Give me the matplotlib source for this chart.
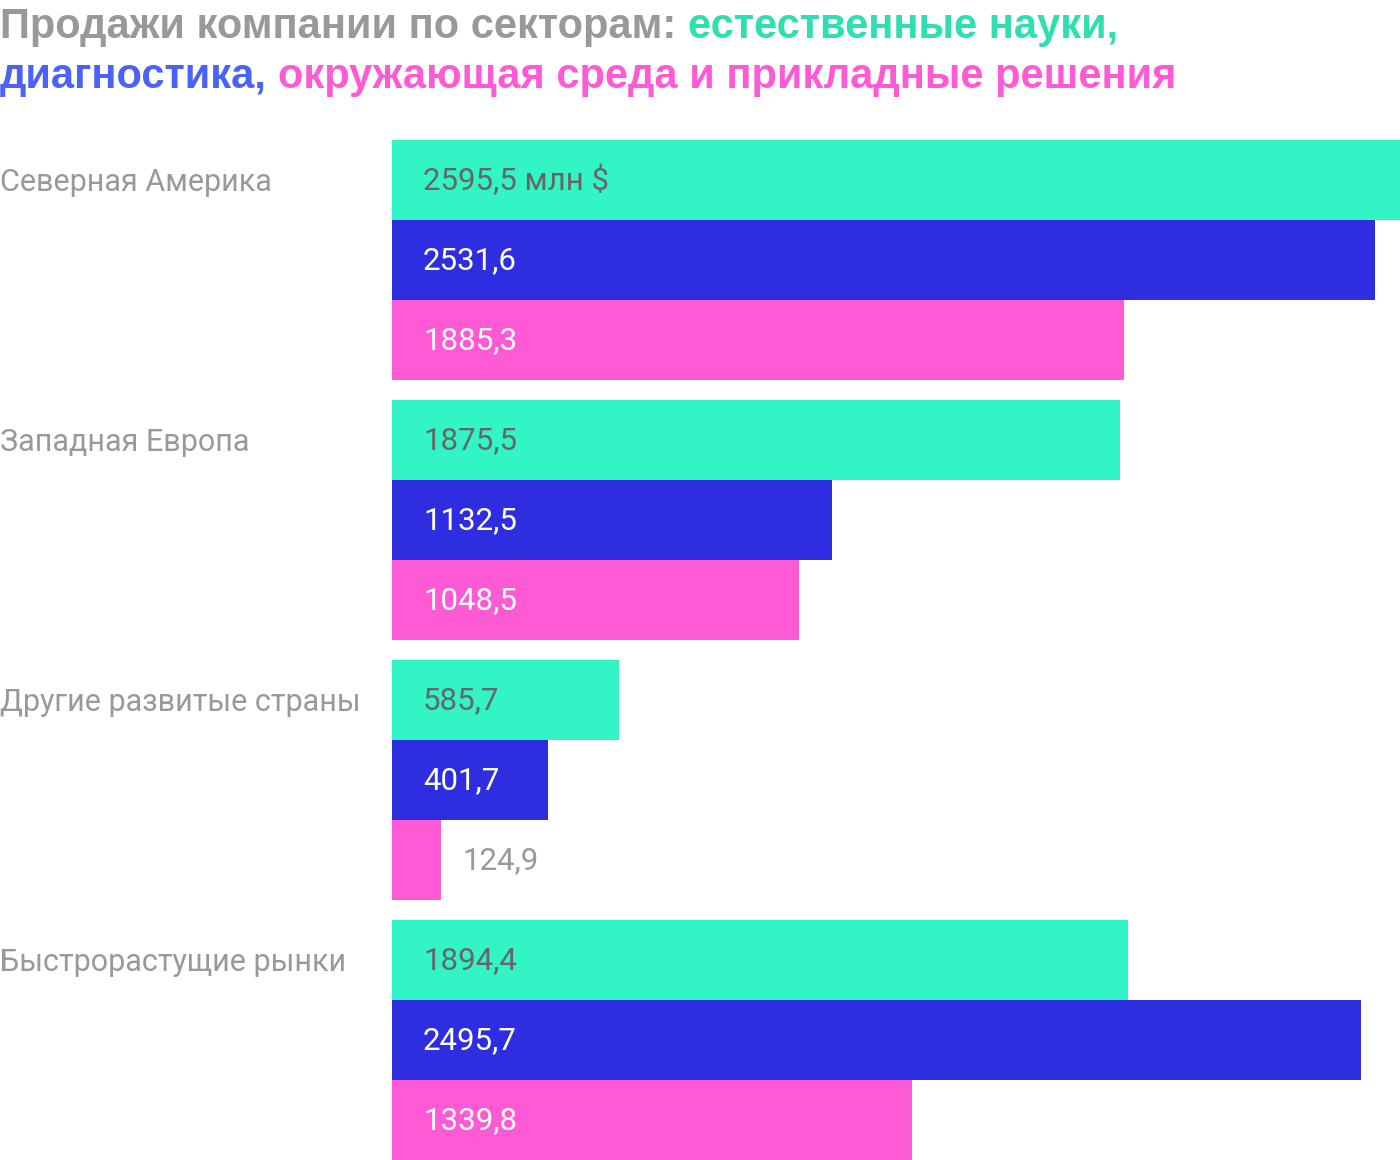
import matplotlib
matplotlib.use("Agg")
import matplotlib.pyplot as plt

categories = ["Северная Америка", "Западная Европа", "Другие развитые страны", "Быстрорастущие рынки"]
series_names = ["естественные науки", "диагностика", "окружающая среда и прикладные решения"]
life_sciences = [2595.5, 1875.5, 585.7, 1894.4]
diagnostics = [2531.6, 1132.5, 401.7, 2495.7]
environment = [1885.3, 1048.5, 124.9, 1339.8]
value_labels = [
    ["2595,5 млн $", "1875,5", "585,7", "1894,4"],
    ["2531,6", "1132,5", "401,7", "2495,7"],
    ["1885,3", "1048,5", "124,9", "1339,8"],
]

bar_colors = ["#33F4C5", "#2E2EE0", "#FF5AD6"]
title_colors = ["#2EDFB0", "#4A62FA", "#FF5AD6"]
label_colors = ["#666666", "#FFFFFF", "#FFFFFF"]
gray = "#999999"

plt.rcParams['font.family'] = ['Roboto', 'DejaVu Sans']

fig = plt.figure(figsize=(14, 11.6), dpi=100)
ax = fig.add_axes([392 / 1400, 0, 1 - 392 / 1400, 1020 / 1160])

series = [life_sciences, diagnostics, environment]
gap = 0.25
xmax = life_sciences[0]
for gi, cat in enumerate(categories):
    base = gi * (3 + gap)
    for si in range(3):
        y = base + si + 0.5
        v = series[si][gi]
        ax.barh(y, v, height=1.0, color=bar_colors[si], edgecolor='none')
        lbl = value_labels[si][gi]
        if v * (1008 / xmax) < 80:
            ax.annotate(lbl, (v, y), xytext=(16, -0.5), textcoords='offset points',
                        ha='left', va='center', fontsize=22.5, color=gray)
        else:
            ax.annotate(lbl, (0, y), xytext=(31 * 0.72, -0.5), textcoords='offset points',
                        ha='left', va='center', fontsize=22.5, color=label_colors[si])
    ax.annotate(cat, (0, base + 0.5), xycoords='data', xytext=(-392 * 0.72, -1.5),
                textcoords='offset points', ha='left', va='center', fontsize=22, color=gray)

ax.set_xlim(0, xmax)
ax.set_ylim(4 * 3 + 3 * gap, 0)
ax.axis('off')

fig.canvas.draw()
renderer = fig.canvas.get_renderer()

def colored_line(parts, x0, y0):
    x = x0
    for text, color in parts:
        t = fig.text(x, y0, text, fontsize=30, fontweight='bold', color=color,
                     ha='left', va='baseline', transform=None,
                     family=['Liberation Sans', 'DejaVu Sans'])
        fig.canvas.draw()
        bb = t.get_window_extent(renderer)
        x = bb.x1

H = 1160
colored_line([("Продажи компании по секторам: ", gray),
              ("естественные науки,", title_colors[0])], 0, H - 38)
colored_line([("диагностика,", title_colors[1]),
              (" ", gray),
              ("окружающая среда и прикладные решения", title_colors[2])], 0, H - 88)

fig.savefig("out.png", dpi=100)
